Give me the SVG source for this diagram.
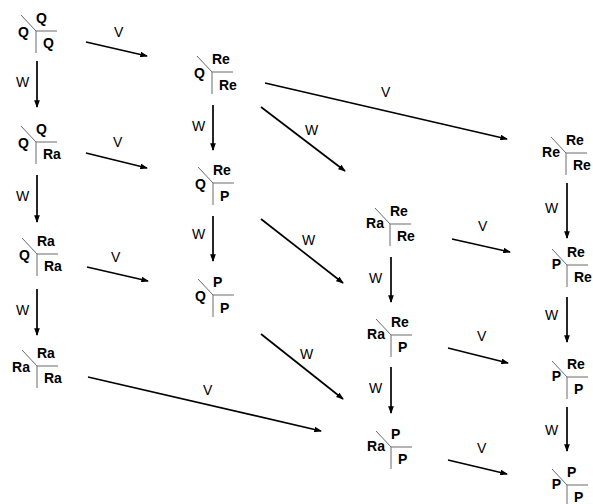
<svg xmlns="http://www.w3.org/2000/svg" width="593" height="504" viewBox="0 0 593 504">
<defs>
<style>
.n text{font-family:"Liberation Sans",Arial,sans-serif;font-weight:bold;font-size:14px;fill:#000}
.n .l{text-anchor:end}
.c line{stroke:#000;stroke-width:1.7;marker-end:url(#ah)}
.c text{font-family:"Liberation Sans",Arial,sans-serif;font-size:14px;fill:#000}
</style>
<marker id="ah" viewBox="0 0 8 6" refX="7" refY="3" markerWidth="4.5" markerHeight="3.4" orient="auto" markerUnits="strokeWidth">
<path d="M0,0 L8,3 L0,6 Z" fill="#000"/>
</marker>
<g id="sym" stroke="#6a6a6a" stroke-width="1" fill="none"><line x1="-15" y1="-16" x2="0" y2="0"/><line x1="0" y1="0" x2="21" y2="0"/><line x1="0" y1="0" x2="0" y2="22"/></g>
</defs>
<rect width="593" height="504" fill="#fff"/>

<g id="n_QQQ" class="n" transform="translate(36,31)"><use href="#sym"/><text x="0" y="-8">Q</text><text class="l" x="-7" y="6">Q</text><text x="7" y="17">Q</text></g>
<g id="n_QQRa" class="n" transform="translate(36,142)"><use href="#sym"/><text x="0" y="-8">Q</text><text class="l" x="-7" y="6">Q</text><text x="7" y="17">Ra</text></g>
<g id="n_QRaRa" class="n" transform="translate(37,254)"><use href="#sym"/><text x="0" y="-8">Ra</text><text class="l" x="-7" y="6">Q</text><text x="7" y="17">Ra</text></g>
<g id="n_RaRaRa" class="n" transform="translate(37,366)"><use href="#sym"/><text x="0" y="-8">Ra</text><text class="l" x="-7" y="6">Ra</text><text x="7" y="17">Ra</text></g>

<g id="n_QReRe" class="n" transform="translate(212,72)"><use href="#sym"/><text x="0" y="-8">Re</text><text class="l" x="-7" y="6">Q</text><text x="7" y="18">Re</text></g>
<g id="n_QReP" class="n" transform="translate(213,183)"><use href="#sym"/><text x="0" y="-8">Re</text><text class="l" x="-7" y="6">Q</text><text x="7" y="18">P</text></g>
<g id="n_QPP" class="n" transform="translate(213,295)"><use href="#sym"/><text x="0" y="-8">P</text><text class="l" x="-7" y="6">Q</text><text x="7" y="18">P</text></g>

<g id="n_RaReRe" class="n" transform="translate(390,224)"><use href="#sym"/><text x="0" y="-8">Re</text><text class="l" x="-6" y="4">Ra</text><text x="7" y="17">Re</text></g>
<g id="n_RaReP" class="n" transform="translate(391,335)"><use href="#sym"/><text x="0" y="-8">Re</text><text class="l" x="-6" y="4">Ra</text><text x="7" y="17">P</text></g>
<g id="n_RaPP" class="n" transform="translate(391,447)"><use href="#sym"/><text x="0" y="-8">P</text><text class="l" x="-6" y="4">Ra</text><text x="7" y="17">P</text></g>

<g id="n_ReReRe" class="n" transform="translate(566,153)"><use href="#sym"/><text x="0" y="-8">Re</text><text class="l" x="-6" y="4">Re</text><text x="7" y="17">Re</text></g>
<g id="n_PReRe" class="n" transform="translate(567,265)"><use href="#sym"/><text x="0" y="-8">Re</text><text class="l" x="-6" y="4">P</text><text x="7" y="17">Re</text></g>
<g id="n_PReP" class="n" transform="translate(567,377)"><use href="#sym"/><text x="0" y="-8">Re</text><text class="l" x="-6" y="4">P</text><text x="7" y="17">P</text></g>
<g id="n_PPP" class="n" transform="translate(567,485)"><use href="#sym"/><text x="0" y="-8">P</text><text class="l" x="-6" y="4">P</text><text x="7" y="17">P</text></g>

<g id="connectors" class="c">
<line x1="37" y1="61" x2="37" y2="107"/><text x="16" y="87">W</text>
<line x1="37" y1="175" x2="37" y2="222"/><text x="16" y="201">W</text>
<line x1="37" y1="289" x2="37" y2="335"/><text x="16" y="315">W</text>
<line x1="86" y1="42" x2="147" y2="56"/><text x="114" y="37">V</text>
<line x1="86" y1="153" x2="147" y2="168"/><text x="113" y="147">V</text>
<line x1="87" y1="267" x2="148" y2="281"/><text x="111" y="262">V</text>
<line x1="88" y1="377" x2="321" y2="431"/><text x="203" y="395">V</text>

<line x1="213" y1="105" x2="213" y2="150"/><text x="192" y="131">W</text>
<line x1="213" y1="216" x2="213" y2="261"/><text x="192" y="239">W</text>
<line x1="265" y1="83" x2="507" y2="139"/><text x="381" y="97">V</text>
<line x1="261" y1="107" x2="345" y2="171"/><text x="305" y="135">W</text>
<line x1="261" y1="219" x2="343" y2="283"/><text x="302" y="245">W</text>
<line x1="261" y1="334" x2="343" y2="399"/><text x="300" y="359">W</text>

<line x1="391" y1="257" x2="391" y2="302"/><text x="369" y="283">W</text>
<line x1="391" y1="367" x2="391" y2="413"/><text x="369" y="393">W</text>
<line x1="452" y1="239" x2="510" y2="252"/><text x="478" y="231">V</text>
<line x1="448" y1="348" x2="508" y2="363"/><text x="477" y="341">V</text>
<line x1="448" y1="460" x2="507" y2="474"/><text x="477" y="453">V</text>

<line x1="567" y1="183" x2="567" y2="238"/><text x="545" y="213">W</text>
<line x1="567" y1="297" x2="567" y2="342"/><text x="545" y="320">W</text>
<line x1="567" y1="407" x2="567" y2="451"/><text x="545" y="435">W</text>
</g>
</svg>
